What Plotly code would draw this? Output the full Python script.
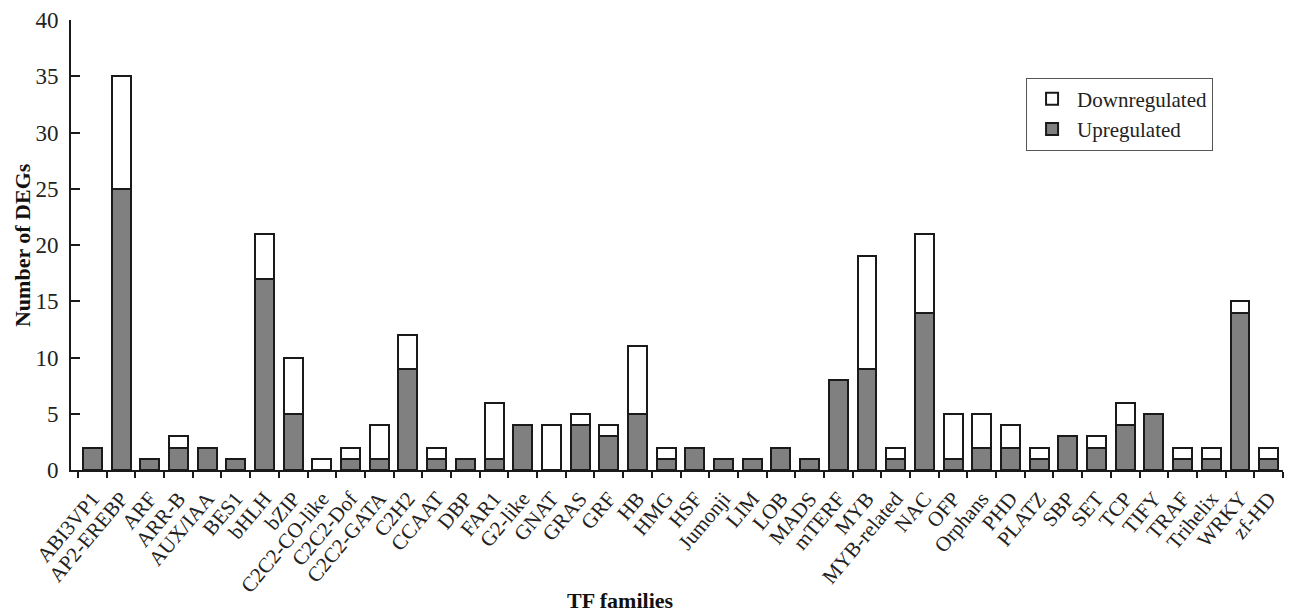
import plotly.graph_objects as go

# Transcription-factor families and their differentially expressed gene counts
families = [
    "ABI3VP1", "AP2-EREBP", "ARF", "ARR-B", "AUX/IAA", "BES1", "bHLH", "bZIP",
    "C2C2-CO-like", "C2C2-Dof", "C2C2-GATA", "C2H2", "CCAAT", "DBP", "FAR1",
    "G2-like", "GNAT", "GRAS", "GRF", "HB", "HMG", "HSF", "Jumonji", "LIM",
    "LOB", "MADS", "mTERF", "MYB", "MYB-related", "NAC", "OFP", "Orphans",
    "PHD", "PLATZ", "SBP", "SET", "TCP", "TIFY", "TRAF", "Trihelix", "WRKY",
    "zf-HD",
]
upregulated = [
    2, 25, 1, 2, 2, 1, 17, 5, 0, 1, 1, 9, 1, 1, 1, 4, 0, 4, 3, 5, 1, 2, 1, 1,
    2, 1, 8, 9, 1, 14, 1, 2, 2, 1, 3, 2, 4, 5, 1, 1, 14, 1,
]
downregulated = [
    0, 10, 0, 1, 0, 0, 4, 5, 1, 1, 3, 3, 1, 0, 5, 0, 4, 1, 1, 6, 1, 0, 0, 0,
    0, 0, 0, 10, 1, 7, 4, 3, 2, 1, 0, 1, 2, 0, 1, 1, 1, 1,
]
y_ticks = [0, 5, 10, 15, 20, 25, 30, 35, 40]

SERIF = "Liberation Serif"
INK = "#1a1a1a"

fig = go.Figure()
fig.add_trace(go.Bar(
    x=families, y=upregulated, name="Upregulated",
    marker=dict(color="#808080", line=dict(color=INK, width=2)),
    width=0.66,
))
fig.add_trace(go.Bar(
    x=families, y=downregulated, name="Downregulated",
    marker=dict(color="#ffffff", line=dict(color=INK, width=2)),
    width=0.66,
))

fig.update_layout(
    width=1291, height=615,
    margin=dict(l=71, r=8, t=17, b=145),
    barmode="stack",
    plot_bgcolor="white", paper_bgcolor="white",
    font=dict(family=SERIF, size=21, color=INK),
    showlegend=True,
    legend=dict(
        x=0.788, y=0.872, xanchor="left", yanchor="top",
        traceorder="reversed",
        bordercolor="#555555", borderwidth=1,
        bgcolor="white",
        font=dict(family=SERIF, size=21, color="#222222"),
        itemwidth=40,
    ),
)

fig.update_xaxes(
    type="category",
    range=[-0.745, 41.5],
    tickson="boundaries",
    ticks="outside", ticklen=6, tickwidth=2, tickcolor=INK,
    showline=True, linecolor=INK, linewidth=2,
    tickangle=-50,
    tickfont=dict(family=SERIF, size=21, color="#222222"),
    ticklabelstandoff=6,
    showgrid=False, zeroline=False,
)
fig.update_yaxes(
    range=[0, 40],
    tickvals=y_ticks,
    ticks="inside", ticklen=9, tickwidth=2, tickcolor=INK,
    showline=True, linecolor=INK, linewidth=2,
    tickfont=dict(family=SERIF, size=23, color="#222222"),
    ticklabelstandoff=6,
    showgrid=False, zeroline=False,
)

# Axis titles
fig.add_annotation(
    text="<b>TF families</b>", x=0.453, y=-0.289,
    xref="paper", yref="paper", xanchor="center", yanchor="middle",
    showarrow=False, font=dict(family=SERIF, size=22, color="#111111"),
)
fig.add_annotation(
    text="<b>Number of DEGs</b>", x=-0.0404, y=0.5, textangle=-90,
    xref="paper", yref="paper", xanchor="center", yanchor="middle",
    showarrow=False, font=dict(family=SERIF, size=22, color="#111111"),
)

fig.write_html("out.html")
